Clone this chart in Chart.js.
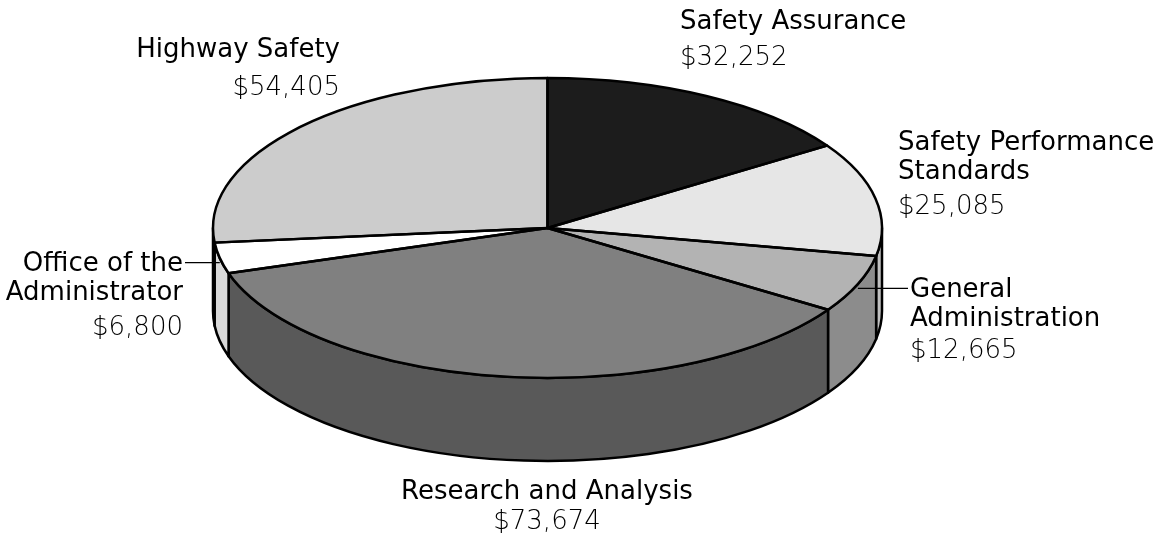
<!DOCTYPE html>
<html>
<head>
<meta charset="utf-8">
<script src="https://cdn.jsdelivr.net/npm/chart.js@4.4.1/dist/chart.umd.min.js"></script>
<style>
  html, body { margin: 0; padding: 0; background: #fff; }
  canvas { display: block; }
</style>
</head>
<body>
<canvas id="grafico" width="1171" height="540"></canvas>
<script>
// Dados do gráfico (sentido horário a partir do topo)
const categorias = ['Safety Assurance', 'Safety Performance Standards', 'General Administration',
                    'Research and Analysis', 'Office of the Administrator', 'Highway Safety'];
const valores = [32252, 25085, 12665, 73674, 6800, 54405];
const rotulos = [['Safety Assurance'], ['Safety Performance', 'Standards'], ['General', 'Administration'],
                 ['Research and Analysis'], ['Office of the', 'Administrator'], ['Highway Safety']];
const valoresTexto = ['$32,252', '$25,085', '$12,665', '$73,674', '$6,800', '$54,405'];

// Cores do topo e da lateral de cada fatia
const coresTopo = ['#1c1c1c', '#e6e6e6', '#b3b3b3', '#808080', '#ffffff', '#cccccc'];
const coresLado = ['#111111', '#c0c0c0', '#8c8c8c', '#595959', '#d9d9d9', '#a6a6a6'];

// Posição dos rótulos (texto), linhas de chamada calculadas a partir da fatia
const posRotulos = [
  { x: 680, y: 22,  align: 'left',   gap: 36 },
  { x: 898, y: 143, align: 'left',   gap: 35 },
  { x: 910, chamada: true, align: 'left', gap: 32 },
  { x: 547, y: 492, align: 'center', gap: 30 },
  { x: 183, chamada: true, align: 'right', gap: 35 },
  { x: 340, y: 50,  align: 'right',  gap: 38 }
];

const fonteNome = '26px "DejaVu Sans"';
const fonteValor = '200 26px "DejaVu Sans"';

// Plugin que desenha a pizza em perspectiva (lateral + topo achatado)
const pizza3d = {
  id: 'pizza3d',
  beforeDatasetsDraw(chart, args, opts) {
    const ctx = chart.ctx;
    const arcs = chart.getDatasetMeta(0).data;
    const { x: cx, y: cy, outerRadius: r } = arcs[0];
    const ry = r * opts.inclinacao;
    const h = opts.profundidade;

    // paredes laterais: só a metade da frente (0 a PI) aparece
    ctx.save();
    ctx.lineWidth = opts.espessura;
    ctx.strokeStyle = '#000';
    ctx.lineJoin = 'round';
    arcs.forEach((arc, i) => {
      const a0 = Math.max(arc.startAngle, 0);
      const a1 = Math.min(arc.endAngle, Math.PI);
      if (a1 <= a0) return;
      ctx.beginPath();
      ctx.ellipse(cx, cy, r, ry, 0, a0, a1);
      ctx.ellipse(cx, cy + h, r, ry, 0, a1, a0, true);
      ctx.closePath();
      ctx.fillStyle = coresLado[i];
      ctx.fill();
      ctx.stroke();
    });
    ctx.restore();

    // achata o topo (o Chart.js desenha as fatias dentro desta transformação)
    ctx.save();
    ctx.translate(cx, cy);
    ctx.scale(1, opts.inclinacao);
    ctx.translate(-cx, -cy);
  },
  afterDatasetsDraw(chart, args, opts) {
    const ctx = chart.ctx;
    ctx.restore();
    const arcs = chart.getDatasetMeta(0).data;
    const { x: cx, y: cy, outerRadius: r } = arcs[0];
    const ry = r * opts.inclinacao;

    // contornos do topo
    ctx.save();
    ctx.lineWidth = opts.espessura;
    ctx.strokeStyle = '#000';
    ctx.lineJoin = 'round';
    arcs.forEach(arc => {
      ctx.beginPath();
      ctx.moveTo(cx, cy);
      ctx.ellipse(cx, cy, r, ry, 0, arc.startAngle, arc.endAngle);
      ctx.closePath();
      ctx.stroke();
    });
    ctx.restore();

    // rótulos
    ctx.save();
    ctx.fillStyle = '#000';
    ctx.textBaseline = 'middle';
    arcs.forEach((arc, i) => {
      const p = posRotulos[i];
      let y = p.y;
      if (p.chamada) {
        const meio = (arc.startAngle + arc.endAngle) / 2;
        const px = cx + r * Math.cos(meio);
        const py = cy + ry * Math.sin(meio) + opts.recuoChamada;
        ctx.beginPath();
        ctx.lineWidth = 1.2;
        ctx.strokeStyle = '#000';
        ctx.moveTo(px, py);
        ctx.lineTo(p.align === 'right' ? p.x + 2 : p.x - 2, py);
        ctx.stroke();
        y = py + 2;
      }
      ctx.textAlign = p.align;
      ctx.font = fonteNome;
      rotulos[i].forEach((linha, j) => ctx.fillText(linha, p.x, y + j * 29));
      ctx.font = fonteValor;
      ctx.fillText(valoresTexto[i], p.x, y + (rotulos[i].length - 1) * 29 + p.gap);
    });
    ctx.restore();
  }
};

const ctx = document.getElementById('grafico').getContext('2d');
const chart = new Chart(ctx, {
  type: 'pie',
  data: {
    labels: categorias,
    datasets: [{
      data: valores,
      backgroundColor: coresTopo,
      borderWidth: 0,
      clip: false
    }]
  },
  options: {
    responsive: false,
    animation: false,
    events: [],
    radius: 334.5,
    layout: { padding: { left: 0, right: 76, top: 0, bottom: 84 } },
    plugins: {
      legend: { display: false },
      tooltip: { enabled: false },
      pizza3d: { inclinacao: 0.4484, profundidade: 83, recuoChamada: 4.5, espessura: 2.5 }
    }
  },
  plugins: [pizza3d]
});
</script>
</body>
</html>
